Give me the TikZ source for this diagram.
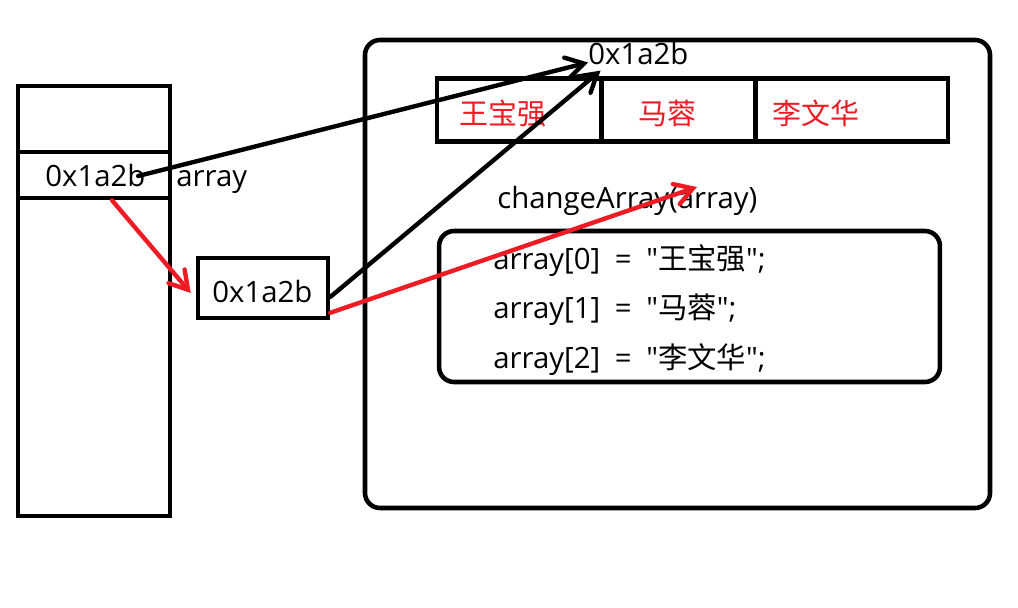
\documentclass[tikz,border=0pt]{standalone}
\usepackage{fontspec}
\setmainfont{Open Sans}[Ligatures=TeXOff]
\newfontfamily\cjk{Noto Sans CJK SC}
\usetikzlibrary{arrows.meta}

\definecolor{paintred}{RGB}{237,28,36}

\tikzset{
  thickline/.style={line width=2.6pt},
  memcell/.style={draw, line width=2.6pt, inner sep=0pt, minimum height=0.92cm},
  plain/.style={inner sep=0pt, anchor=base west},
  elem/.style={inner sep=0pt, anchor=west, text=paintred, font=\cjk\fontsize{16.5}{20}\selectfont},
  blackarrow/.style={line width=2.5pt, line cap=round, -{Straight Barb[length=10pt,width=12pt,line cap=round]}},
  redarrow/.style={blackarrow, draw=paintred}
}

\begin{document}
\begin{tikzpicture}[x=0.02cm, y=-0.02cm, font=\fontsize{16.7}{20}\selectfont]
    \useasboundingbox (0,0) rectangle (1018,608);

    % Draw the stack
    \draw[thickline] (18,86) rectangle (170,516);
    \node[memcell, minimum width=3.04cm] (slot) at (94,175) {};
    \node[plain] (val) at (45,187) {0x1a2b};
    \node[plain] (var) at (176,187) {array};

    % Draw the parameter copy
    \node[memcell, minimum width=2.6cm, minimum height=1.2cm] (copy) at (263,288) {};
    \node[plain] (cval) at (212,302) {0x1a2b};

    % Draw the heap
    \draw[thickline, rounded corners=0.3cm] (365,40) rectangle (990,508);
    \node[plain] (addr) at (588,65) {0x1a2b};

    % Draw the array cells
    \node[memcell, minimum width=3.28cm, minimum height=1.26cm] (c0) at (519,110) {};
    \node[memcell, minimum width=3.08cm, minimum height=1.26cm] (c1) at (678.5,110) {};
    \node[memcell, minimum width=3.86cm, minimum height=1.26cm] (c2) at (851.5,110) {};
    \node[elem] (n0) at (459,113) {王宝强};
    \node[elem] (n1) at (638,113) {马蓉};
    \node[elem] (n2) at (772,113) {李文华};

    % Draw the method
    \node[plain] (call) at (497,208) {changeArray(array)};
    \node[draw, thickline, rounded corners=0.3cm, minimum width=10.02cm, minimum height=3.02cm] (body) at (689.5,306.5) {};
    \node[plain] (l0) at (493,269) {array[0]\hspace{0.5em}=\hspace{0.5em}"{\cjk 王宝强}";};
    \node[plain] (l1) at (493,318) {array[1]\hspace{0.5em}=\hspace{0.5em}"{\cjk 马蓉}";};
    \node[plain] (l2) at (493,368) {array[2]\hspace{0.5em}=\hspace{0.5em}"{\cjk 李文华}";};

    % Draw the references
    \draw[blackarrow] ([xshift=-0.15cm]val.east) -- ([yshift=0.05cm]addr.base west);
    \draw[blackarrow] ([yshift=-0.18cm]copy.east) -- ([xshift=0.25cm,yshift=-0.1cm]addr.south west);
    \draw[redarrow] ([xshift=0.36cm]slot.south) -- ([xshift=-0.1cm,yshift=-0.1cm]copy.west);
    \draw[redarrow] ([yshift=0.15cm]copy.south east) -- ([xshift=4cm,yshift=0.42cm]call.base west);
\end{tikzpicture}
\end{document}
